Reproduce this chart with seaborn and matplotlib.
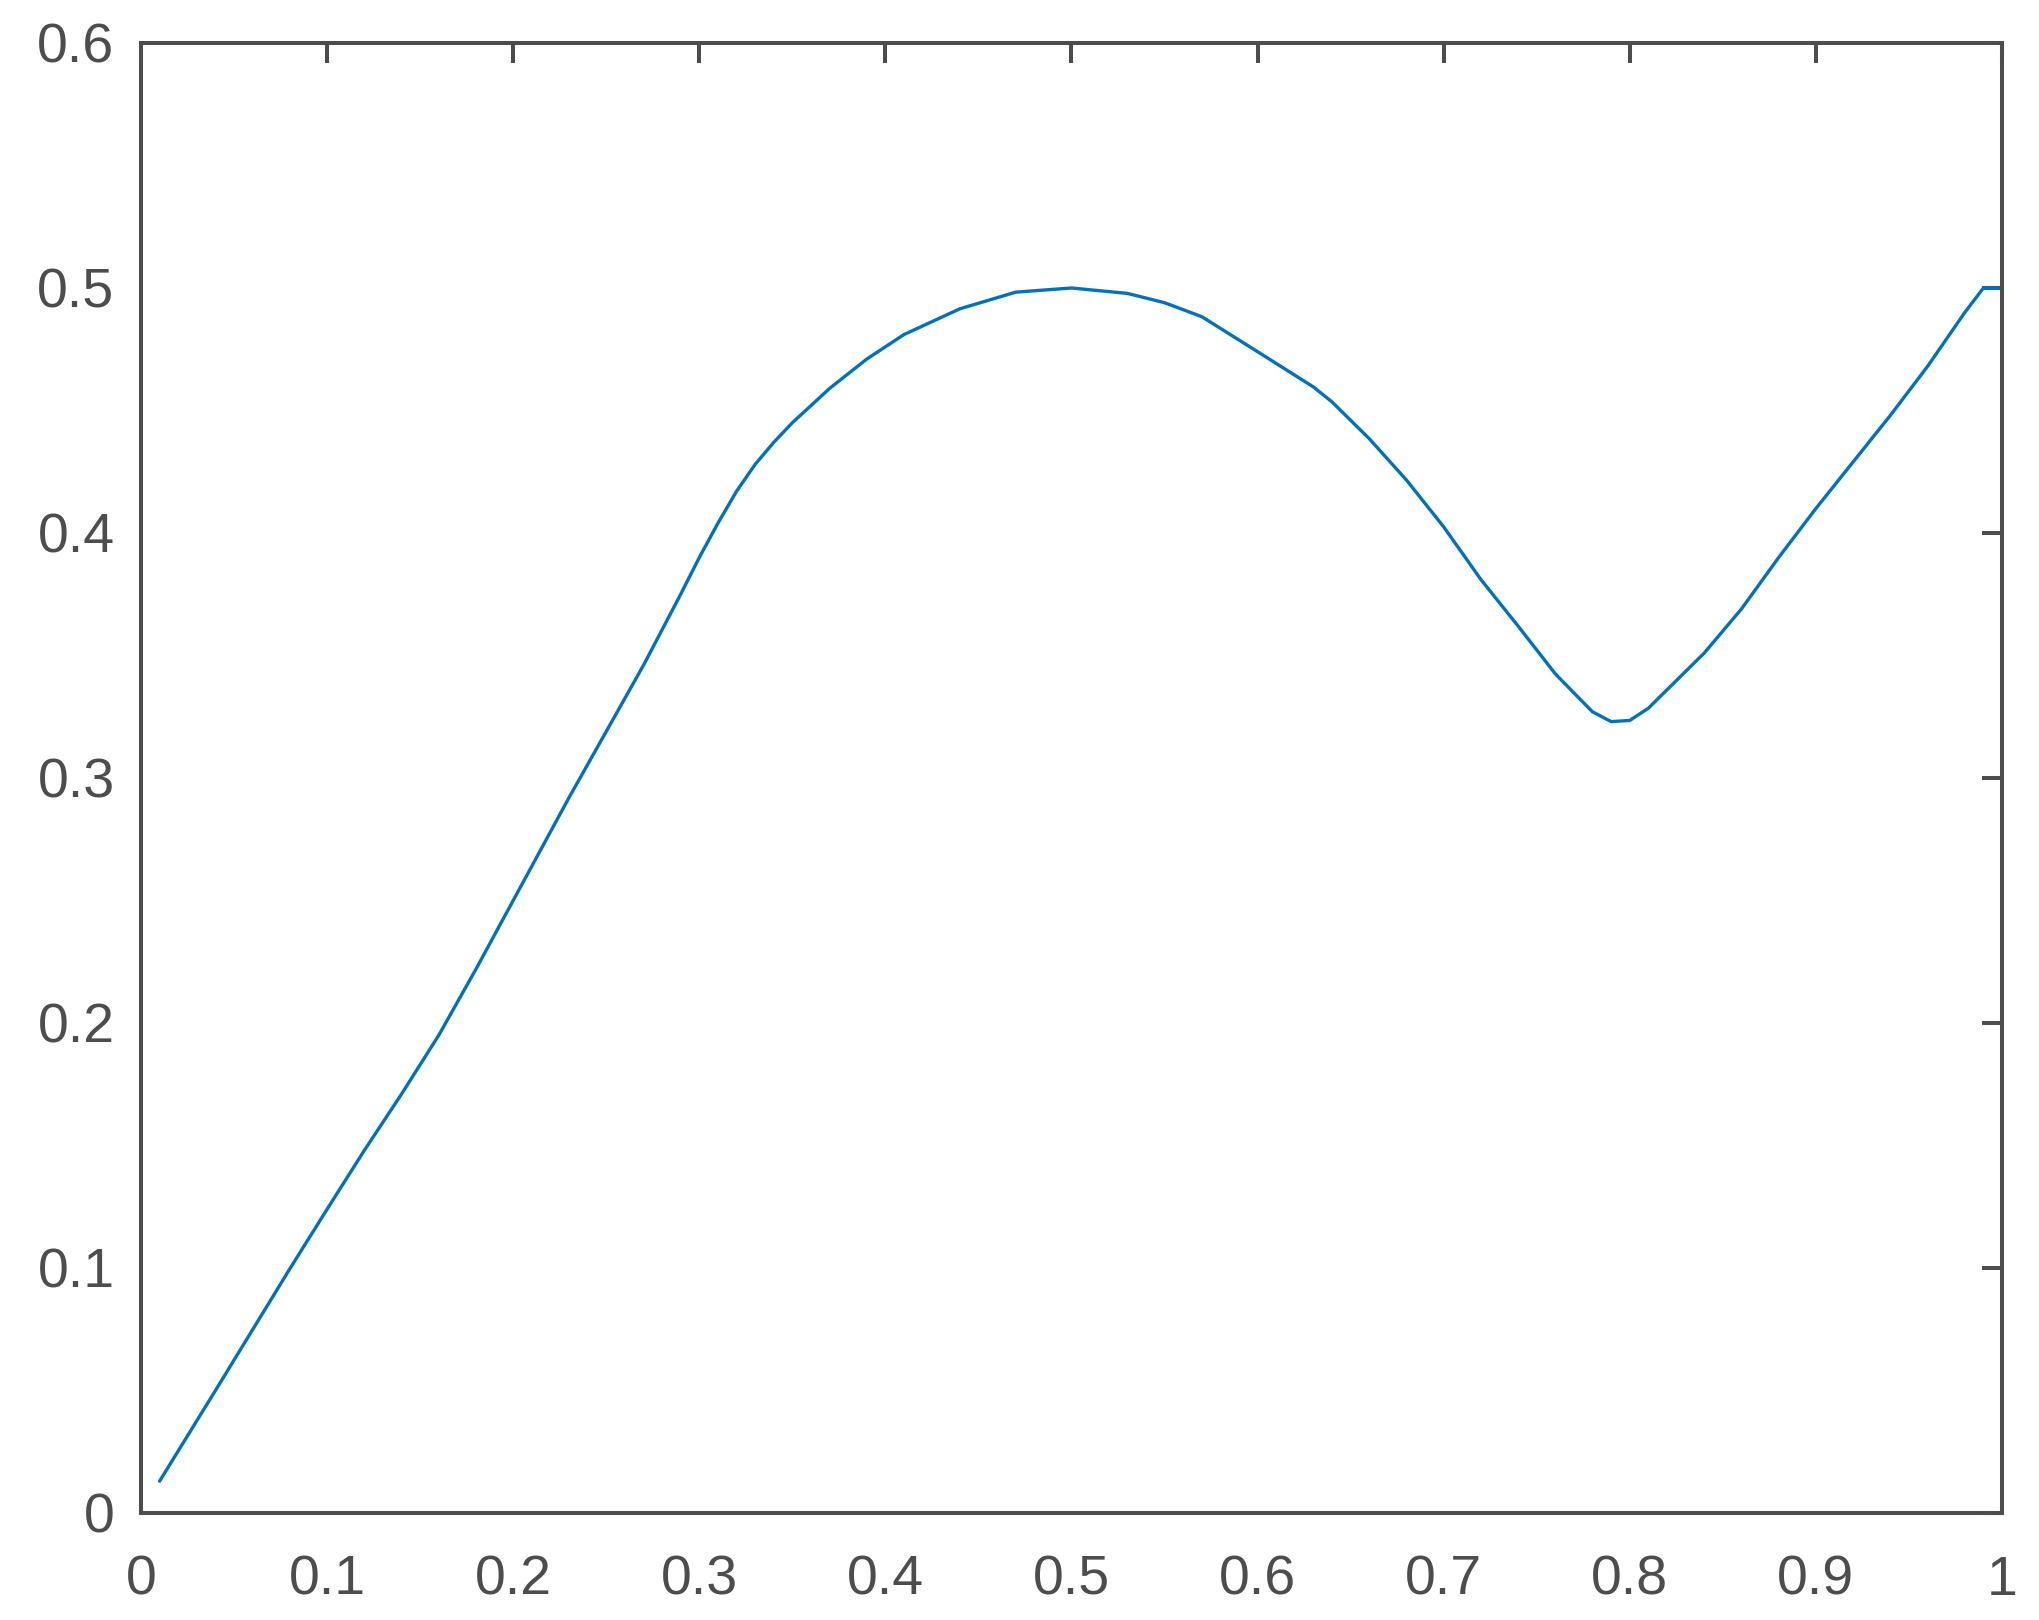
import matplotlib
matplotlib.use('Agg')
import matplotlib.pyplot as plt
import seaborn as sns
from matplotlib.ticker import FuncFormatter

# values
x_vals = [0.01, 0.04, 0.08, 0.10, 0.12, 0.14, 0.16, 0.18, 0.20, 0.23,
          0.25, 0.27, 0.29, 0.30, 0.31, 0.32, 0.33, 0.34, 0.35, 0.37,
          0.39, 0.41, 0.44, 0.47, 0.50, 0.53, 0.55, 0.57, 0.60, 0.63,
          0.64, 0.66, 0.68, 0.70, 0.72, 0.74, 0.76, 0.77, 0.78, 0.79,
          0.80, 0.81, 0.82, 0.84, 0.86, 0.88, 0.90, 0.92, 0.94, 0.96,
          0.98, 0.99, 1.00]
y_vals = [0.0130, 0.050, 0.0997, 0.124, 0.148, 0.171, 0.195, 0.222, 0.250, 0.292,
          0.319, 0.346, 0.375, 0.390, 0.404, 0.417, 0.428, 0.437, 0.445, 0.459,
          0.471, 0.481, 0.4915, 0.4983, 0.500, 0.4978, 0.494, 0.4883, 0.474, 0.4596,
          0.4535, 0.4385, 0.4216, 0.4025, 0.381, 0.362, 0.3425, 0.3347, 0.327, 0.323,
          0.3235, 0.3285, 0.336, 0.351, 0.369, 0.390, 0.410, 0.429, 0.448, 0.468,
          0.490, 0.500, 0.500]

x_ticks = [0, 0.1, 0.2, 0.3, 0.4, 0.5, 0.6, 0.7, 0.8, 0.9, 1]
y_ticks = [0, 0.1, 0.2, 0.3, 0.4, 0.5, 0.6]

sns.set_style('white')
plt.rcParams['font.family'] = ['Liberation Sans', 'DejaVu Sans']

axis_color = '#4d4d4d'

fig = plt.figure(figsize=(20.39, 16.2), dpi=100)
ax = fig.add_axes([0.06915, 0.06605, 0.91270, 0.90741])

sns.lineplot(x=x_vals, y=y_vals, ax=ax, color='#0072BD', linewidth=2.4)

ax.set_xlim(0, 1)
ax.set_ylim(0, 0.6)
ax.set_xticks(x_ticks)
ax.set_yticks(y_ticks)
fmt = FuncFormatter(lambda v, pos: f'{v:g}')
ax.xaxis.set_major_formatter(fmt)
ax.yaxis.set_major_formatter(fmt)

for side in ['top', 'bottom', 'left', 'right']:
    ax.spines[side].set_visible(True)
    ax.spines[side].set_color(axis_color)
    ax.spines[side].set_linewidth(2.9)

ax.tick_params(direction='in', top=True, right=True, length=14.4, width=2.9,
               color=axis_color, labelcolor=axis_color, labelsize=40)
ax.tick_params(axis='y', pad=19)
ax.tick_params(axis='x', pad=30)

fig.savefig('out.png', dpi=100)
